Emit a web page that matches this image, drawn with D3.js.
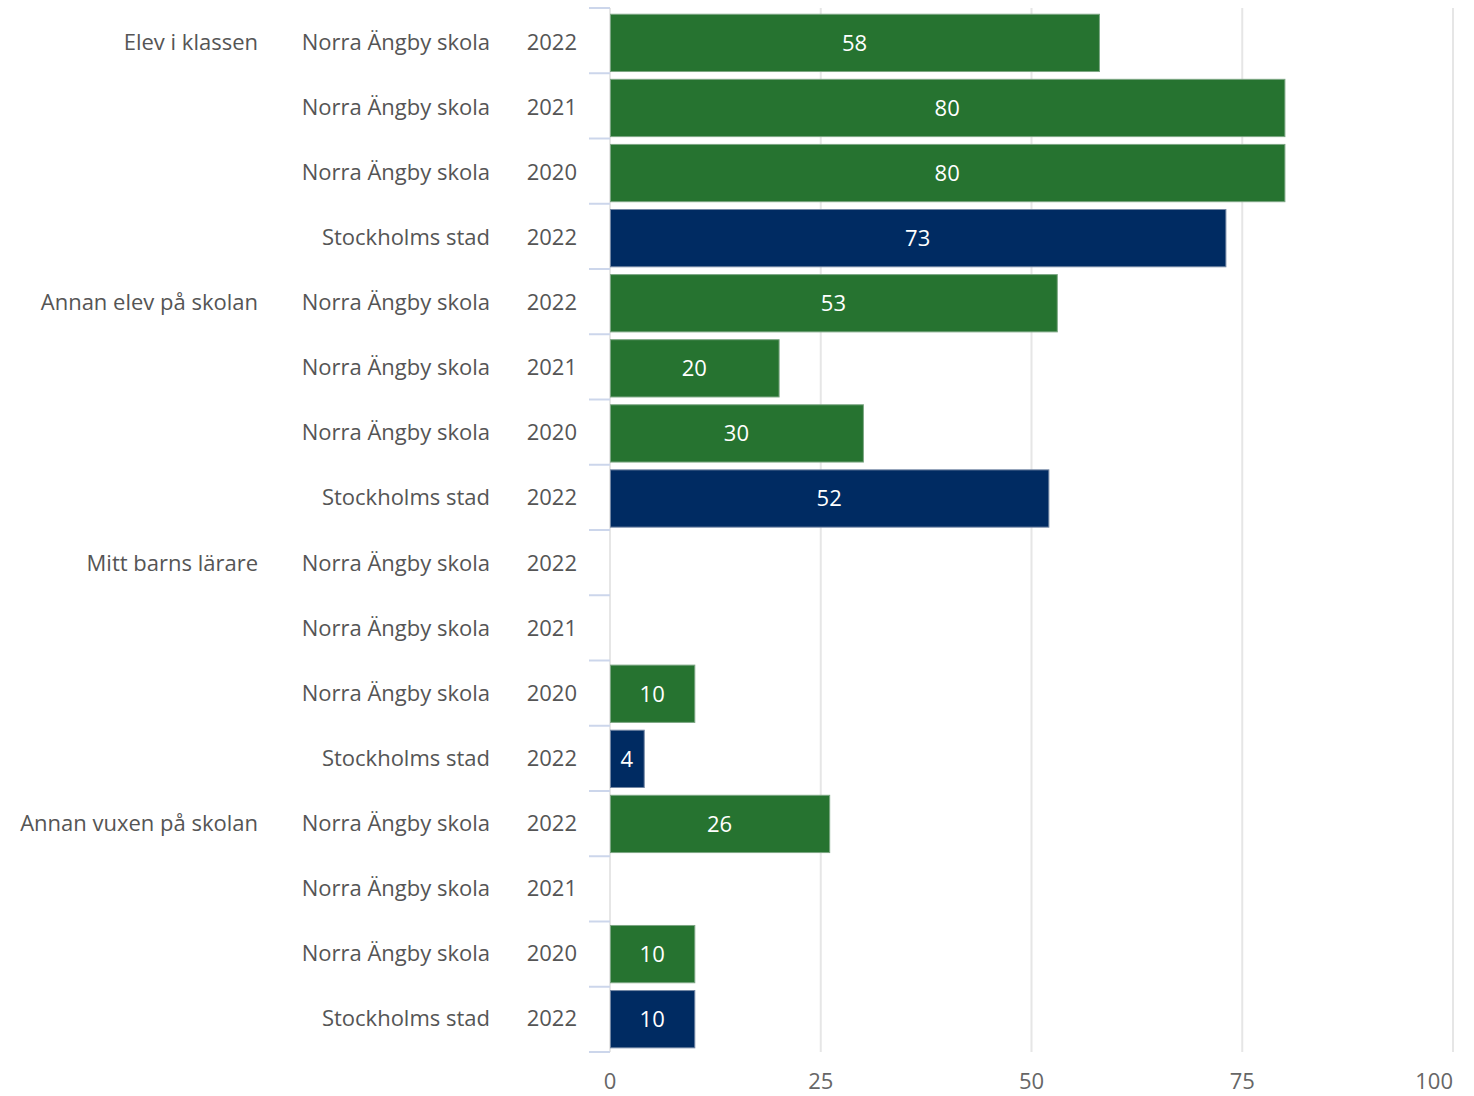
<!DOCTYPE html>
<html>
<head>
<meta charset="utf-8">
<script src="https://cdn.jsdelivr.net/npm/d3@7"></script>
<style>
  body { margin: 0; background: #fff; }
  text { font-family: "Open Sans", Lato, sans-serif; }
</style>
</head>
<body>
<div id="chart"></div>
<script>
// categories, one per group of four rows
var categories = ["Elev i klassen", "Annan elev på skolan", "Mitt barns lärare", "Annan vuxen på skolan"];
var units = ["Norra Ängby skola", "Norra Ängby skola", "Norra Ängby skola", "Stockholms stad"];
var years = ["2022", "2021", "2020", "2022"];
// values per category, in the order of units/years (null = no bar)
var values = [
  [58, 80, 80, 73],
  [53, 20, 30, 52],
  [null, null, 10, 4],
  [26, null, 10, 10]
];
var xTicks = [0, 25, 50, 75, 100];

var width = 1474, height = 1096;
var margin = {top: 8, right: 21, bottom: 44, left: 610};

var rows = [];
categories.forEach(function(c, i) {
  units.forEach(function(u, j) {
    rows.push({cat: c, first: j == 0, unit: u, year: years[j], value: values[i][j], city: u == "Stockholms stad"});
  });
});

var svg = d3.select("#chart").append("svg")
  .attr("width", width)
  .attr("height", height);

var x = d3.scaleLinear()
  .domain([0, 100])
  .range([margin.left, width - margin.right]);

var top0 = margin.top, bottom0 = height - margin.bottom;

var y = d3.scaleBand()
  .domain(d3.range(rows.length))
  .range([top0, bottom0])
  .paddingInner(0.12)
  .paddingOuter(0.08)
  .align(0.6);

function rowEdge(i) { return top0 + i * (bottom0 - top0) / rows.length; }
function rowCenter(i) { return y(i) + y.bandwidth() / 2 - 1; }

// gridlines
svg.append("g")
  .selectAll("line")
  .data(xTicks)
  .join("line")
    .attr("x1", function(d) { return x(d); })
    .attr("x2", function(d) { return x(d); })
    .attr("y1", top0)
    .attr("y2", bottom0)
    .attr("stroke", "#e6e6e6")
    .attr("stroke-width", 2);

// row ticks on the y axis
svg.append("g")
  .selectAll("line")
  .data(d3.range(rows.length + 1))
  .join("line")
    .attr("x1", margin.left - 21)
    .attr("x2", margin.left)
    .attr("y1", rowEdge)
    .attr("y2", rowEdge)
    .attr("stroke", "#ccd6eb")
    .attr("stroke-width", 2);

// bars
var bars = rows.map(function(d, i) { return {d: d, i: i}; }).filter(function(r) { return r.d.value != null; });

svg.append("g")
  .selectAll("rect")
  .data(bars)
  .join("rect")
    .attr("x", x(0) + 0.5)
    .attr("y", function(r) { return y(r.i); })
    .attr("width", function(r) { return x(r.d.value) - x(0); })
    .attr("height", y.bandwidth())
    .attr("fill", function(r) { return r.d.city ? "#002b62" : "#267330"; })
    .attr("stroke", function(r) { return r.d.city ? "#7387a4" : "#7ca683"; })
    .attr("stroke-width", 1);

svg.append("g")
  .selectAll("text")
  .data(bars)
  .join("text")
    .attr("x", function(r) { return (x(0) + x(r.d.value)) / 2; })
    .attr("y", function(r) { return y(r.i) + y.bandwidth() / 2; })
    .attr("dy", "0.36em")
    .attr("text-anchor", "middle")
    .attr("fill", "#fff")
    .attr("font-size", 22)
    .text(function(r) { return r.d.value; });

// row labels
var labels = svg.append("g")
  .attr("fill", "#555")
  .attr("font-size", 22);

labels.selectAll(".cat")
  .data(rows.map(function(d, i) { return {d: d, i: i}; }).filter(function(r) { return r.d.first; }))
  .join("text")
    .attr("class", "cat")
    .attr("x", 258)
    .attr("y", function(r) { return rowCenter(r.i); })
    .attr("dy", "0.36em")
    .attr("text-anchor", "end")
    .text(function(r) { return r.d.cat; });

labels.selectAll(".unit")
  .data(rows)
  .join("text")
    .attr("class", "unit")
    .attr("x", 490)
    .attr("y", function(d, i) { return rowCenter(i); })
    .attr("dy", "0.36em")
    .attr("text-anchor", "end")
    .text(function(d) { return d.unit; });

labels.selectAll(".year")
  .data(rows)
  .join("text")
    .attr("class", "year")
    .attr("x", 577)
    .attr("y", function(d, i) { return rowCenter(i); })
    .attr("dy", "0.36em")
    .attr("text-anchor", "end")
    .text(function(d) { return d.year; });

// x axis labels
svg.append("g")
  .selectAll("text")
  .data(xTicks)
  .join("text")
    .attr("x", function(d) { return x(d); })
    .attr("y", 1081)
    .attr("dy", "0.36em")
    .attr("text-anchor", function(d) { return d == 100 ? "end" : "middle"; })
    .attr("fill", "#666")
    .attr("font-size", 22)
    .text(function(d) { return d; });
</script>
</body>
</html>
